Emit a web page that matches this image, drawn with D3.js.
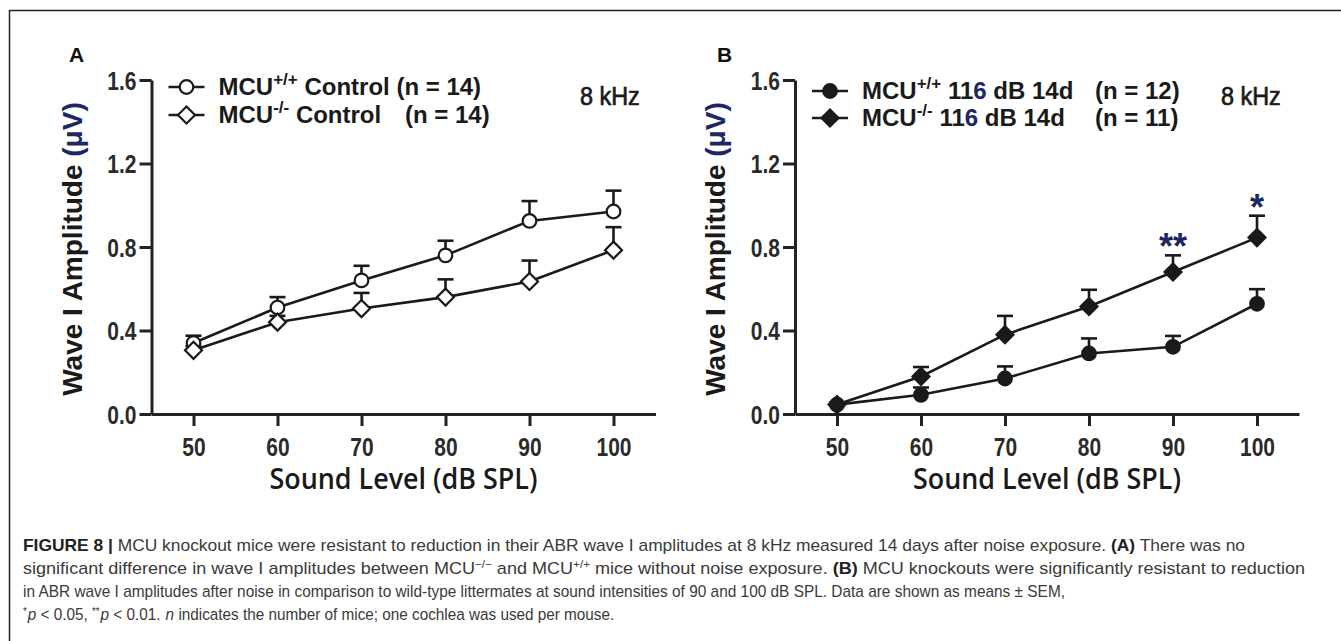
<!DOCTYPE html>
<html>
<head>
<meta charset="utf-8">
<script src="https://cdn.jsdelivr.net/npm/d3@7"></script>
<style>
  body { margin: 0; background: #fff; }
  svg { display: block; }
  .tick text { font-family: "Liberation Sans", Arial, sans-serif; font-weight: 700; font-size: 25px; fill: #2b2b2b; }
</style>
</head>
<body>
<svg id="chart" width="1341" height="641"></svg>
<script>
// sound levels (dB SPL)
const levels = [50, 60, 70, 80, 90, 100];
const yTicks = [0, 0.4, 0.8, 1.2, 1.6];

// panel A: controls (means and SEM)
const aWT = [0.34, 0.51, 0.64, 0.76, 0.925, 0.97];
const aWTsem = [0.035, 0.05, 0.07, 0.07, 0.095, 0.1];
const aKO = [0.305, 0.44, 0.505, 0.56, 0.635, 0.785];
const aKOsem = [0.02, 0.03, 0.075, 0.085, 0.1, 0.11];

// panel B: 116 dB, 14 days
const bWT = [0.045, 0.092, 0.17, 0.29, 0.322, 0.528];
const bWTsem = [0.01, 0.035, 0.058, 0.072, 0.052, 0.07];
const bKO = [0.045, 0.18, 0.38, 0.515, 0.68, 0.845];
const bKOsem = [0.01, 0.045, 0.09, 0.08, 0.08, 0.105];
const bStars = [null, null, null, null, "**", "*"];

const svg = d3.select("#chart");
const navy = "#1c2766";
const ink = "#1a1a1a";
const narrow = 0.84;

// outer frame (cropped at right and bottom)
svg.append("path")
    .attr("d", "M1341,10.5 H9.5 V641")
    .attr("fill", "none")
    .attr("stroke", "#222")
    .attr("stroke-width", 1.5);

const y = d3.scaleLinear().domain([0, 1.6]).range([414, 80]);

function marker(g, shape, filled, cx, cy) {
    const fill = filled ? ink : "#fff";
    if (shape === "circle") {
        g.append("circle").attr("cx", cx).attr("cy", cy).attr("r", 6.8)
            .attr("fill", fill).attr("stroke", ink).attr("stroke-width", 2.2);
    } else {
        const s = 8.5;
        g.append("path")
            .attr("d", `M${cx},${cy - s} L${cx + s},${cy} L${cx},${cy + s} L${cx - s},${cy} Z`)
            .attr("fill", fill).attr("stroke", ink).attr("stroke-width", 2.2);
    }
}

function legendText(g, x0, y0, size) {
    return g.append("g").attr("transform", `translate(${x0},${y0})`)
        .append("text")
        .attr("font-family", "Liberation Sans, Arial, sans-serif")
        .attr("font-weight", 700).attr("font-size", size).attr("fill", ink);
}

function drawPanel(opts) {
    const x = d3.scaleLinear().domain([45, 105]).range([opts.left, opts.left + 504]);
    const g = svg.append("g");

    g.append("text").attr("x", opts.letterX).attr("y", 62)
        .attr("font-family", "Liberation Sans, Arial, sans-serif")
        .attr("font-weight", 700).attr("font-size", 21).attr("fill", "#111")
        .text(opts.letter);

    const yAxis = g.append("g").attr("transform", `translate(${opts.left},0)`)
        .call(d3.axisLeft(y).tickValues(yTicks).tickFormat(d3.format(".1f")).tickSize(12).tickSizeOuter(0).tickPadding(3));
    const xAxis = g.append("g").attr("transform", `translate(0,${y(0)})`)
        .call(d3.axisBottom(x).tickValues(levels).tickSize(12).tickSizeOuter(0).tickPadding(6));
    [yAxis, xAxis].forEach(a => {
        a.selectAll("path, line").attr("stroke", "#222").attr("stroke-width", 3);
    });
    yAxis.selectAll(".tick text").attr("dy", "0.36em")
        .attr("x", -15 / narrow).attr("transform", `scale(${narrow},1)`);
    xAxis.selectAll(".tick text").attr("dy", "0.95em")
        .attr("transform", `scale(${narrow},1)`);

    // axis titles
    const yl = g.append("text")
        .attr("transform", `translate(${opts.left - 70},${y(0.8) + 2}) rotate(-90)`)
        .attr("text-anchor", "middle")
        .attr("font-family", "Liberation Sans, Arial, sans-serif")
        .attr("font-weight", 700).attr("font-size", 28).attr("fill", ink);
    yl.append("tspan").text("Wave I Amplitude ");
    yl.append("tspan").attr("fill", navy).text("(μV)");

    g.append("text")
        .attr("x", x(75)).attr("y", 489)
        .attr("text-anchor", "middle")
        .attr("font-family", "Open Sans, sans-serif")
        .attr("font-weight", 600).attr("font-size", 28).attr("fill", ink)
        .attr("textLength", 268).attr("lengthAdjust", "spacingAndGlyphs")
        .text("Sound Level (dB SPL)");

    // series
    const line = d3.line().x((d, i) => x(levels[i])).y(d => y(d));
    opts.series.forEach(s => {
        const eg = g.append("g");
        s.values.forEach((v, i) => {
            const top = y(v + s.sem[i]);
            eg.append("line").attr("x1", x(levels[i])).attr("x2", x(levels[i]))
                .attr("y1", y(v)).attr("y2", top).attr("stroke", ink).attr("stroke-width", 2.6);
            eg.append("line").attr("x1", x(levels[i]) - 8).attr("x2", x(levels[i]) + 8)
                .attr("y1", top).attr("y2", top).attr("stroke", ink).attr("stroke-width", 2.6);
        });
    });
    opts.series.forEach(s => {
        g.append("path").datum(s.values).attr("d", line)
            .attr("fill", "none").attr("stroke", ink).attr("stroke-width", 2.6);
    });
    opts.series.forEach(s => {
        s.values.forEach((v, i) => marker(g, s.shape, s.filled, x(levels[i]), y(v)));
    });

    // significance stars
    if (opts.stars) {
        const ks = opts.series[1];
        opts.stars.forEach((st, i) => {
            if (!st) return;
            g.append("text")
                .attr("x", x(levels[i])).attr("y", y(ks.values[i] + ks.sem[i]) + 4)
                .attr("text-anchor", "middle")
                .attr("font-family", "Liberation Sans, Arial, sans-serif")
                .attr("font-weight", 700).attr("font-size", 36).attr("fill", navy)
                .text(st);
        });
    }

    // legend
    opts.series.forEach((s, k) => {
        const ly = opts.legendY[k];
        const lx = opts.left + 17;
        g.append("line").attr("x1", lx).attr("x2", lx + 36).attr("y1", ly).attr("y2", ly)
            .attr("stroke", ink).attr("stroke-width", 2.6);
        marker(g, s.shape, s.filled, lx + 18, ly);
        const t = legendText(g, lx + 50, ly + 8, 24);
        t.append("tspan").text("MCU");
        t.append("tspan").attr("dy", -10).attr("font-size", 17).text(s.sup);
        t.append("tspan").attr("dy", 10).text(" ");
        s.label.forEach(p => t.append("tspan").attr("fill", p.c || ink).text(p.t));
        if (s.n) legendText(g, s.nX, ly + 8, 24).text(s.n);
    });

    g.append("g").attr("transform", `translate(${opts.khzX},105) scale(0.9,1)`)
        .append("text")
        .attr("font-family", "Liberation Sans, Arial, sans-serif")
        .attr("font-weight", 400).attr("font-size", 26).attr("fill", ink)
        .attr("stroke", ink).attr("stroke-width", 0.7)
        .text("8 kHz");
}

drawPanel({
    letter: "A", letterX: 69, left: 151.5, legendY: [87, 115], khzX: 580,
    series: [
        { values: aWT, sem: aWTsem, shape: "circle", filled: false, sup: "+/+",
          label: [{ t: "Control (n = 14)" }], n: null },
        { values: aKO, sem: aKOsem, shape: "diamond", filled: false, sup: "-/-",
          label: [{ t: "Control" }], n: "(n = 14)", nX: 405 }
    ]
});

drawPanel({
    letter: "B", letterX: 717, left: 795, legendY: [91, 118], khzX: 1221,
    stars: bStars,
    series: [
        { values: bWT, sem: bWTsem, shape: "circle", filled: true, sup: "+/+",
          label: [{ t: "11" }, { t: "6", c: navy }, { t: " dB 14d" }], n: "(n = 12)", nX: 1095 },
        { values: bKO, sem: bKOsem, shape: "diamond", filled: true, sup: "-/-",
          label: [{ t: "11" }, { t: "6", c: navy }, { t: " dB 14d" }], n: "(n = 11)", nX: 1095 }
    ]
});

// caption (null end = natural width, squeezed with a transform)
const capLines = [
    [{ t: "FIGURE 8", b: 1 }, { t: " | ", b: 1 }, { t: "MCU knockout mice were resistant to reduction in their ABR wave I amplitudes at 8 kHz measured 14 days after noise exposure. " }, { t: "(A)", b: 1 }, { t: " There was no" }],
    [{ t: "significant difference in wave I amplitudes between MCU" }, { t: "−/−", sup: 1 }, { t: " and MCU" }, { t: "+/+", sup: 1 }, { t: " mice without noise exposure. " }, { t: "(B)", b: 1 }, { t: " MCU knockouts were significantly resistant to reduction" }],
    [{ t: "in ABR wave I amplitudes after noise in comparison to wild-type littermates at sound intensities of 90 and 100 dB SPL. Data are shown as means ± SEM," }],
    [{ t: "*", sup: 1 }, { t: "p", i: 1 }, { t: " < 0.05, " }, { t: "**", sup: 1 }, { t: "p", i: 1 }, { t: " < 0.01. " }, { t: "n", i: 1 }, { t: " indicates the number of mice; one cochlea was used per mouse." }]
];
const capY = [551, 574, 597, 620];
const capEnd = [1245, 1305, 1065, null];
capLines.forEach((parts, li) => {
    const holder = svg.append("g")
        .attr("transform", capEnd[li] ? `translate(23,${capY[li]})` : `translate(23,${capY[li]}) scale(0.9,1)`);
    const t = holder.append("text")
        .attr("font-family", "Liberation Sans, Arial, sans-serif")
        .attr("font-size", 17).attr("fill", "#3a3a3a");
    if (capEnd[li]) t.attr("textLength", capEnd[li] - 23).attr("lengthAdjust", "spacingAndGlyphs");
    parts.forEach(p => {
        const s = t.append("tspan").text(p.t);
        if (p.b) s.attr("font-weight", 700).attr("fill", "#222");
        if (p.i) s.attr("font-style", "italic").attr("dx", 1);
        if (p.sup) s.attr("baseline-shift", "super").attr("font-size", 11);
    });
});
</script>
</body>
</html>
